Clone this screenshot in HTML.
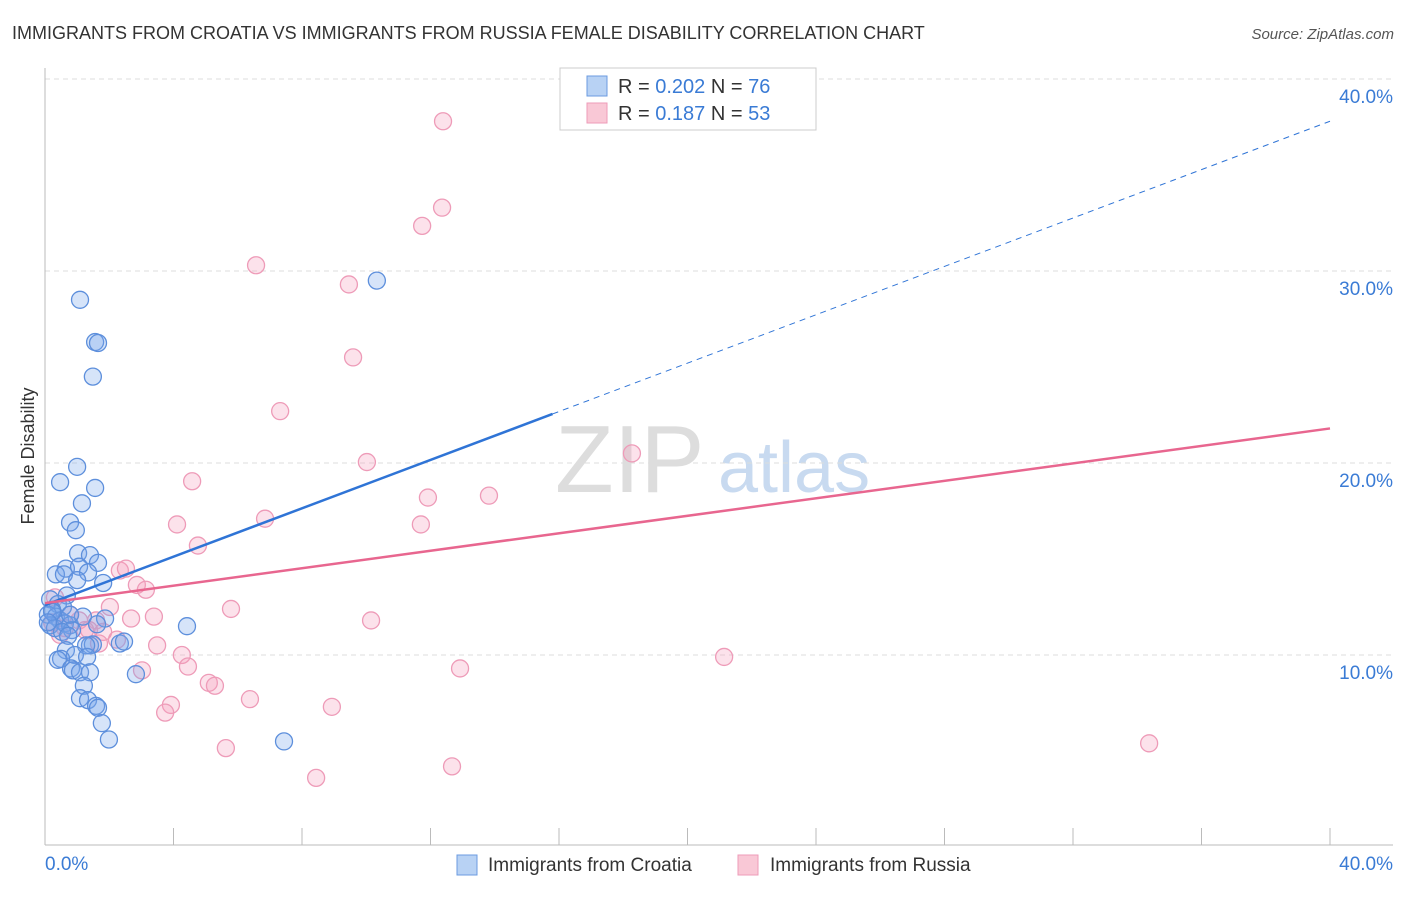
<!DOCTYPE html>
<html><head><meta charset="utf-8">
<style>
body{margin:0;background:#fff;font-family:"Liberation Sans",sans-serif;}
svg text{font-family:"Liberation Sans",sans-serif;}
</style></head>
<body>
<svg id="chart" width="1406" height="892" xmlns="http://www.w3.org/2000/svg">
<text x="12" y="39" font-size="18" fill="#333">IMMIGRANTS FROM CROATIA VS IMMIGRANTS FROM RUSSIA FEMALE DISABILITY CORRELATION CHART</text>
<text x="1394" y="39" font-size="15" fill="#555" font-style="italic" text-anchor="end">Source: ZipAtlas.com</text>
<text transform="translate(34,456) rotate(-90)" font-size="18" fill="#333" text-anchor="middle">Female Disability</text>
<g>
<text x="555" y="492" font-size="96" fill="#ddd" font-family="Liberation Serif, serif">ZIP</text>
<text x="718" y="492" font-size="72" fill="#c8daf0">atlas</text>
</g>
<g id="grid"></g>
<g id="axes"></g>
<g id="marks"></g>
<g id="lines"></g>
<g>
<rect x="560" y="68" width="256" height="62" fill="#fff" stroke="#ccc"/>
<rect x="587" y="76" width="20" height="20" fill="#b8d2f4" stroke="#6b9be0"/>
<text x="618" y="93" font-size="20" fill="#333">R = <tspan fill="#3a7bd5">0.202</tspan>   N = <tspan fill="#3a7bd5">76</tspan></text>
<rect x="587" y="103" width="20" height="20" fill="#f9c8d6" stroke="#ee9bb8"/>
<text x="618" y="120" font-size="20" fill="#333">R =  <tspan fill="#3a7bd5">0.187</tspan>   N = <tspan fill="#3a7bd5">53</tspan></text>
</g>
<g>
<rect x="457" y="855" width="20" height="20" fill="#b8d2f4" stroke="#6b9be0"/>
<text x="488" y="871" font-size="19" fill="#333">Immigrants from Croatia</text>
<rect x="738" y="855" width="20" height="20" fill="#f9c8d6" stroke="#ee9bb8"/>
<text x="770" y="871" font-size="19" fill="#333">Immigrants from Russia</text>
</g>
</svg>
<script>
const yTicks=[10,20,30,40];
const yTickLabels=["10.0%","20.0%","30.0%","40.0%"];
const xTicks=[0,4,8,12,16,20,24,28,32,36,40];
const croatiaX=[1.09,1.56,1.65,1.49,10.33,1.0,0.47,1.56,1.15,0.78,0.96,1.03,1.4,1.65,0.65,1.06,0.34,0.59,1.34,1.0,1.81,0.68,0.16,0.4,0.56,0.22,0.09,0.34,0.47,0.16,0.31,0.62,0.78,1.18,0.84,0.53,0.72,1.87,1.62,4.42,1.4,1.49,1.28,2.33,2.46,0.65,0.93,0.5,0.4,1.31,0.81,0.87,1.09,1.4,2.83,1.21,1.09,1.34,1.59,1.65,1.77,1.99,7.44,0.22,0.09,0.78];
const croatiaY=[28.5,26.3,26.25,24.5,29.5,19.8,19.0,18.7,17.9,16.9,16.5,15.3,15.2,14.8,14.5,14.6,14.2,14.2,14.3,13.9,13.75,13.1,12.9,12.65,12.5,12.35,12.1,12.0,11.8,11.55,11.4,11.65,11.55,12.0,11.3,11.2,11.0,11.9,11.6,11.5,10.5,10.55,10.5,10.6,10.7,10.25,10.0,9.8,9.75,9.9,9.3,9.2,9.1,9.1,9.0,8.4,7.75,7.65,7.35,7.25,6.45,5.6,5.5,12.25,11.7,12.1];
const russiaX=[12.39,12.36,11.74,6.57,9.46,9.59,7.32,18.27,10.02,4.58,11.92,13.82,6.85,4.11,11.7,4.76,2.33,2.52,2.86,3.14,2.02,5.79,3.39,2.68,10.15,1.59,1.06,1.37,1.81,2.24,1.68,3.49,4.26,4.45,3.02,12.92,21.14,5.1,5.29,3.92,3.74,6.38,8.93,5.63,8.44,12.67,34.37,0.31,0.22,0.47,0.78,1.25,0.62];
const russiaY=[37.8,33.3,32.35,30.3,29.3,25.5,22.7,20.5,20.05,19.05,18.2,18.3,17.1,16.8,16.8,15.7,14.4,14.5,13.65,13.4,12.5,12.4,12.0,11.9,11.8,11.8,11.8,11.3,11.2,10.8,10.6,10.5,10.0,9.4,9.2,9.3,9.9,8.55,8.4,7.4,7.0,7.7,7.3,5.15,3.6,4.2,5.4,13.0,11.7,11.05,12.1,11.3,11.4];
const croatiaFit=[12.6,37.8];
const russiaFit=[12.7,21.8];
const NS="http://www.w3.org/2000/svg";
const xs=v=>45+v*32.125;
const ys=v=>847-v*19.2;
function mk(tag,attrs,parent){const e=document.createElementNS(NS,tag);for(const k in attrs)e.setAttribute(k,attrs[k]);document.getElementById(parent).appendChild(e);return e;}
yTicks.forEach((t,i)=>{
 const g=mk('line',{x1:45,x2:1393,y1:ys(t),y2:ys(t),stroke:'#ddd','stroke-dasharray':'5,4'},'grid');
 
 
 const l=mk('text',{x:1393,y:ys(t)+24,'font-size':19,fill:'#3a7bd5','text-anchor':'end'},'grid');
 l.textContent=yTickLabels[i];
 
 
});
const ax=mk('line',{x1:45,x2:1393,y1:845,y2:845,stroke:'#bbb'},'axes');


const ay=mk('line',{x1:45,x2:45,y1:68,y2:845,stroke:'#bbb'},'axes');


xTicks.forEach(t=>{
 const tk=mk('line',{x1:xs(t),x2:xs(t),y1:828,y2:845,stroke:'#bbb'},'axes');
 
 
});
const xl0=mk('text',{x:45,y:870,'font-size':19,fill:'#3a7bd5'},'axes');xl0.textContent='0.0%';


const xl1=mk('text',{x:1393,y:870,'font-size':19,fill:'#3a7bd5','text-anchor':'end'},'axes');xl1.textContent='40.0%';


function pts(X,Y,fill,stroke,name){X.forEach((x,i)=>{
 const c=mk('circle',{cx:xs(x),cy:ys(Y[i]),r:8.5,fill:fill,stroke:stroke,'stroke-width':1.3},'marks');
 
 
});}
pts(russiaX,russiaY,'rgba(244,160,188,0.3)','#ee9bb8','russia-point');
pts(croatiaX,croatiaY,'rgba(120,165,235,0.3)','#5d8fdc','croatia-point');
const bEnd=15.8;
const bMid=croatiaFit[0]+(croatiaFit[1]-croatiaFit[0])*bEnd/40;
const b1=mk('line',{x1:xs(0),y1:ys(croatiaFit[0]),x2:xs(bEnd),y2:ys(bMid),stroke:'#2f74d6','stroke-width':2.5},'lines');


const b2=mk('line',{x1:xs(bEnd),y1:ys(bMid),x2:xs(40),y2:ys(croatiaFit[1]),stroke:'#2f74d6','stroke-width':1,'stroke-dasharray':'6,5'},'lines');


const r1=mk('line',{x1:xs(0),y1:ys(russiaFit[0]),x2:xs(40),y2:ys(russiaFit[1]),stroke:'#e8668f','stroke-width':2.5},'lines');


</script>
</body></html>
